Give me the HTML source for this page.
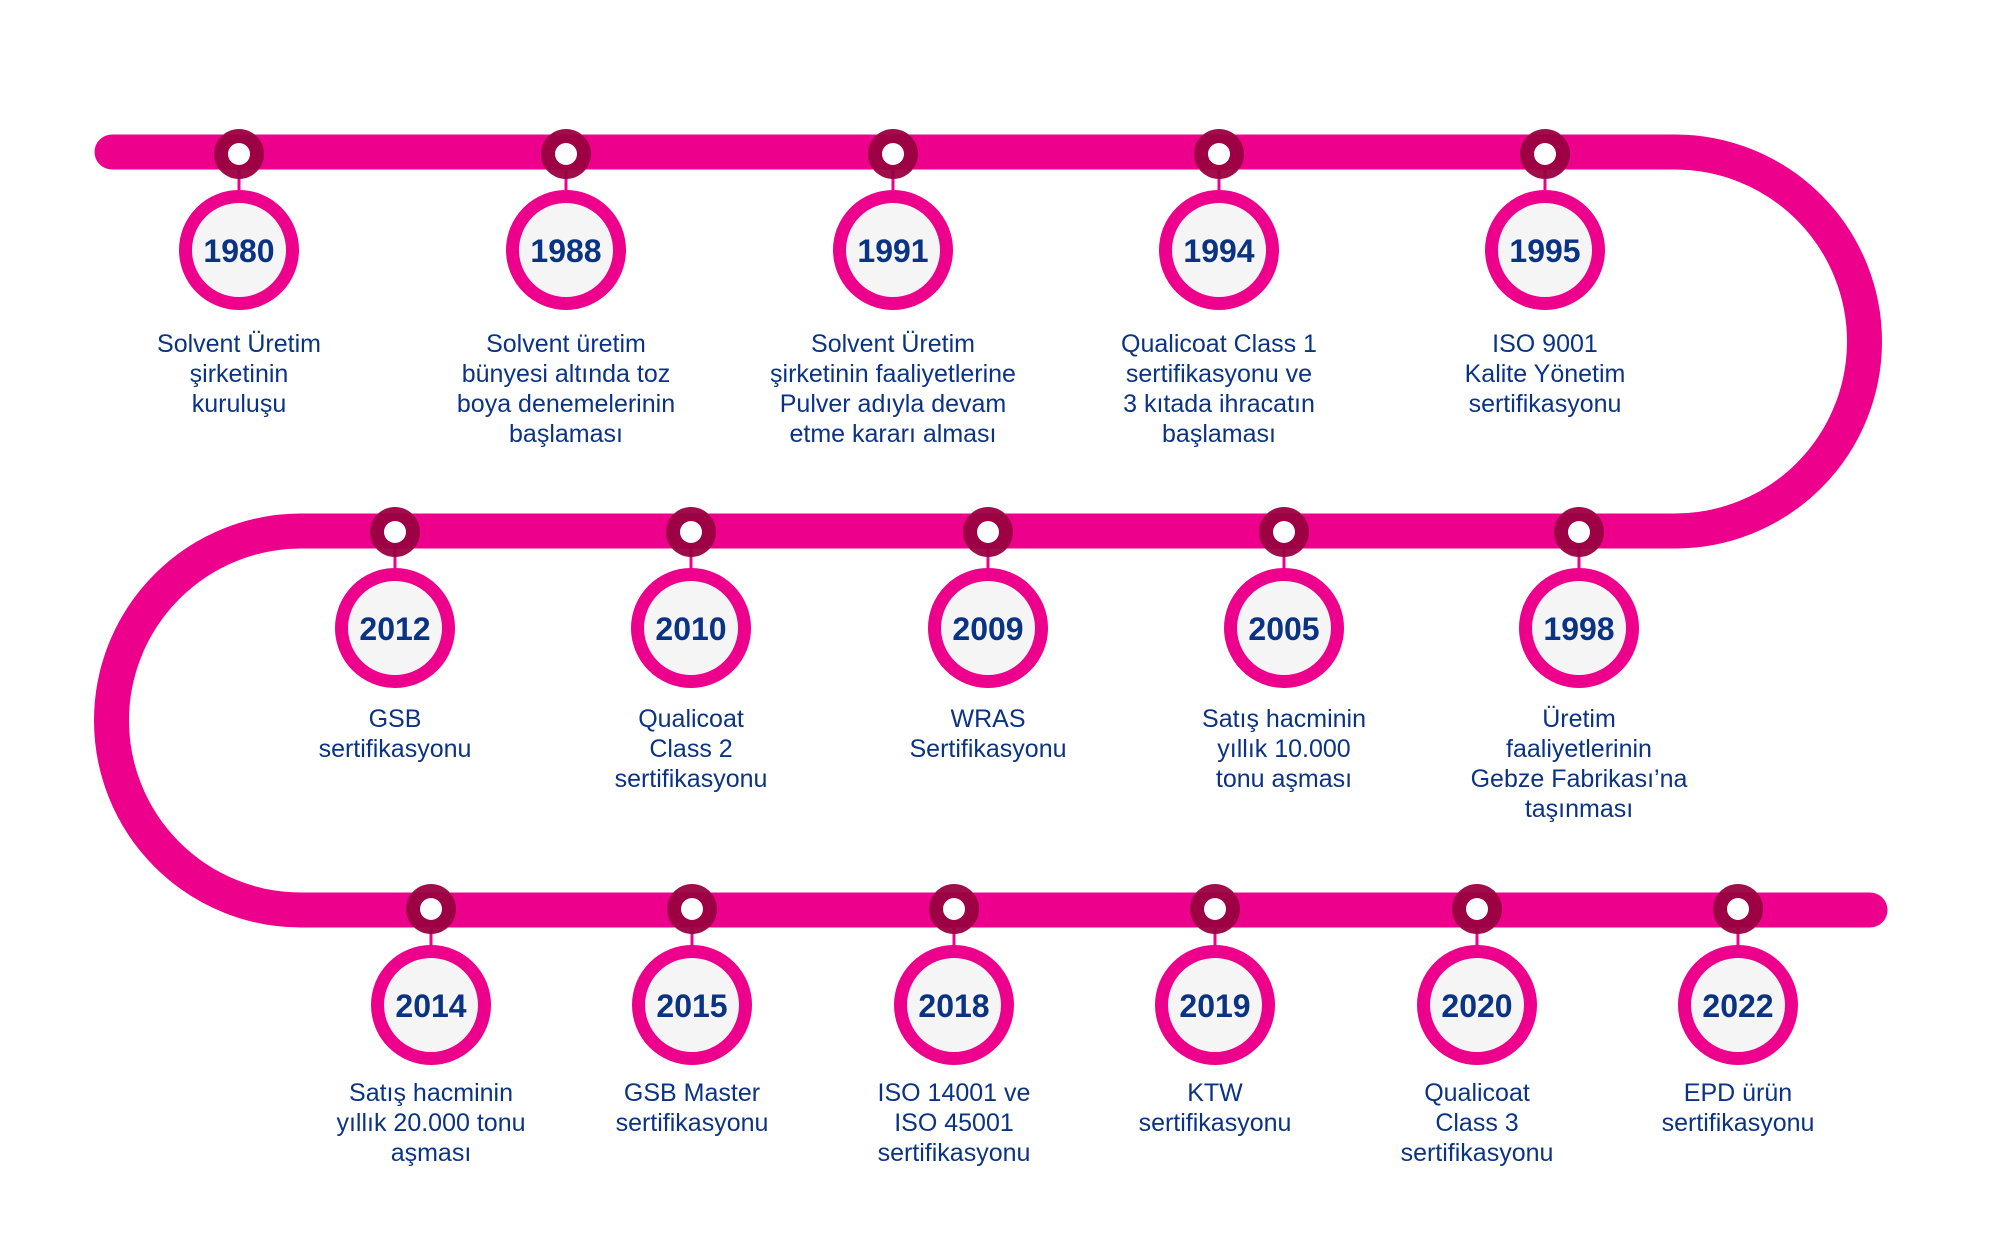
<!DOCTYPE html>
<html><head><meta charset="utf-8"><style>
html,body{margin:0;padding:0;background:#fff;}
svg{display:block;}
.y{font-family:"Liberation Sans",sans-serif;font-weight:bold;font-size:32px;fill:#0b3384;text-anchor:middle;}
.t{font-family:"Liberation Sans",sans-serif;font-size:25px;fill:#0b3384;text-anchor:middle;}
</style></head><body>
<svg width="2000" height="1258" viewBox="0 0 2000 1258" xmlns="http://www.w3.org/2000/svg">
<path d="M112 152 H1675 A189.5 189.5 0 0 1 1675 531 H301 A189.5 189.5 0 0 0 301 910 H1870" fill="none" stroke="#ec008c" stroke-width="35" stroke-linecap="round"/>
<defs>
<g id="m">
<line x1="0" y1="0" x2="0" y2="40" stroke="#ec008c" stroke-width="3"/>
<circle cx="0" cy="0" r="25" fill="#9a0040" fill-opacity="0.95"/>
<circle cx="0" cy="0" r="11" fill="#fff"/>
<circle cx="0" cy="96" r="53.5" fill="#f5f5f5" stroke="#ec008c" stroke-width="13"/>
</g>
</defs>
<g>
<use href="#m" x="239" y="154"/><text class="y" x="239" y="262">1980</text>
<text class="t" x="239" y="352">Solvent Üretim</text><text class="t" x="239" y="382">şirketinin</text><text class="t" x="239" y="412">kuruluşu</text>
<use href="#m" x="566" y="154"/><text class="y" x="566" y="262">1988</text>
<text class="t" x="566" y="352">Solvent üretim</text><text class="t" x="566" y="382">bünyesi altında toz</text><text class="t" x="566" y="412">boya denemelerinin</text><text class="t" x="566" y="442">başlaması</text>
<use href="#m" x="893" y="154"/><text class="y" x="893" y="262">1991</text>
<text class="t" x="893" y="352">Solvent Üretim</text><text class="t" x="893" y="382">şirketinin faaliyetlerine</text><text class="t" x="893" y="412">Pulver adıyla devam</text><text class="t" x="893" y="442">etme kararı alması</text>
<use href="#m" x="1219" y="154"/><text class="y" x="1219" y="262">1994</text>
<text class="t" x="1219" y="352">Qualicoat Class 1</text><text class="t" x="1219" y="382">sertifikasyonu ve</text><text class="t" x="1219" y="412">3 kıtada ihracatın</text><text class="t" x="1219" y="442">başlaması</text>
<use href="#m" x="1545" y="154"/><text class="y" x="1545" y="262">1995</text>
<text class="t" x="1545" y="352">ISO 9001</text><text class="t" x="1545" y="382">Kalite Yönetim</text><text class="t" x="1545" y="412">sertifikasyonu</text>
</g>
<g>
<use href="#m" x="395" y="532"/><text class="y" x="395" y="640">2012</text>
<text class="t" x="395" y="727">GSB</text><text class="t" x="395" y="757">sertifikasyonu</text>
<use href="#m" x="691" y="532"/><text class="y" x="691" y="640">2010</text>
<text class="t" x="691" y="727">Qualicoat</text><text class="t" x="691" y="757">Class 2</text><text class="t" x="691" y="787">sertifikasyonu</text>
<use href="#m" x="988" y="532"/><text class="y" x="988" y="640">2009</text>
<text class="t" x="988" y="727">WRAS</text><text class="t" x="988" y="757">Sertifikasyonu</text>
<use href="#m" x="1284" y="532"/><text class="y" x="1284" y="640">2005</text>
<text class="t" x="1284" y="727">Satış hacminin</text><text class="t" x="1284" y="757">yıllık 10.000</text><text class="t" x="1284" y="787">tonu aşması</text>
<use href="#m" x="1579" y="532"/><text class="y" x="1579" y="640">1998</text>
<text class="t" x="1579" y="727">Üretim</text><text class="t" x="1579" y="757">faaliyetlerinin</text><text class="t" x="1579" y="787">Gebze Fabrikası’na</text><text class="t" x="1579" y="817">taşınması</text>
</g>
<g>
<use href="#m" x="431" y="909"/><text class="y" x="431" y="1017">2014</text>
<text class="t" x="431" y="1101">Satış hacminin</text><text class="t" x="431" y="1131">yıllık 20.000 tonu</text><text class="t" x="431" y="1161">aşması</text>
<use href="#m" x="692" y="909"/><text class="y" x="692" y="1017">2015</text>
<text class="t" x="692" y="1101">GSB Master</text><text class="t" x="692" y="1131">sertifikasyonu</text>
<use href="#m" x="954" y="909"/><text class="y" x="954" y="1017">2018</text>
<text class="t" x="954" y="1101">ISO 14001 ve</text><text class="t" x="954" y="1131">ISO 45001</text><text class="t" x="954" y="1161">sertifikasyonu</text>
<use href="#m" x="1215" y="909"/><text class="y" x="1215" y="1017">2019</text>
<text class="t" x="1215" y="1101">KTW</text><text class="t" x="1215" y="1131">sertifikasyonu</text>
<use href="#m" x="1477" y="909"/><text class="y" x="1477" y="1017">2020</text>
<text class="t" x="1477" y="1101">Qualicoat</text><text class="t" x="1477" y="1131">Class 3</text><text class="t" x="1477" y="1161">sertifikasyonu</text>
<use href="#m" x="1738" y="909"/><text class="y" x="1738" y="1017">2022</text>
<text class="t" x="1738" y="1101">EPD ürün</text><text class="t" x="1738" y="1131">sertifikasyonu</text>
</g>
</svg>
</body></html>
